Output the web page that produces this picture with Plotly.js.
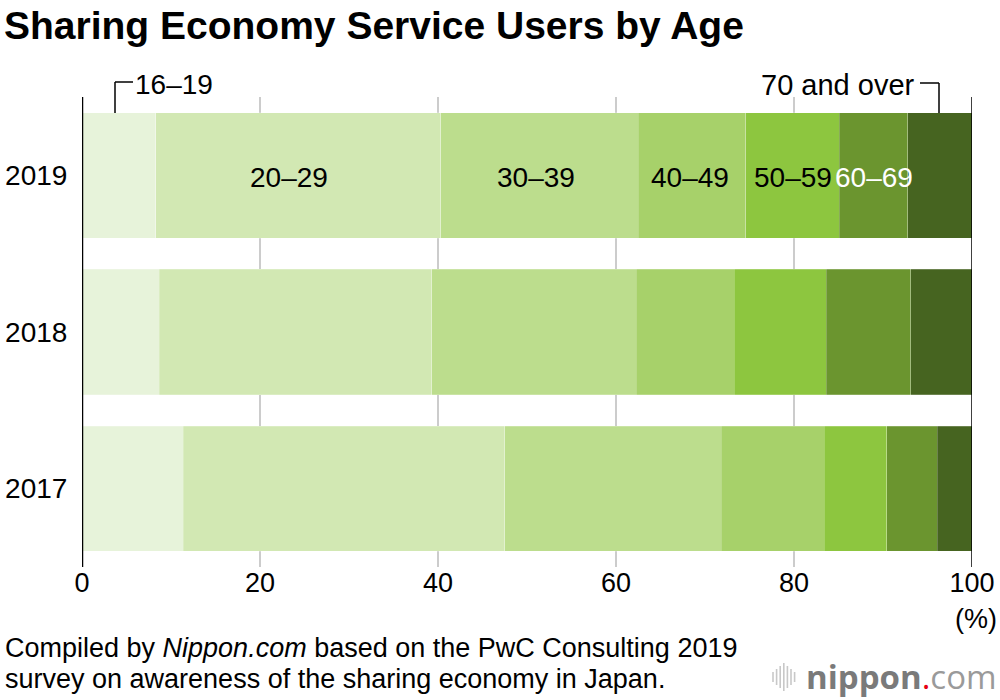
<!DOCTYPE html>
<html>
<head>
<meta charset="utf-8">
<script src="https://cdn.plot.ly/plotly-3.0.1.min.js"></script>
<style>html,body{margin:0;padding:0;background:#fff;}#chart{width:1000px;height:700px;}</style>
</head>
<body>
<div id="chart"></div>
<script>
// ---- data ----
var years = ['2017', '2018', '2019'];
var ageGroups = ['16–19', '20–29', '30–39', '40–49', '50–59', '60–69', '70 and over'];
var s16_19 = [11.4, 8.7, 8.3];
var s20_29 = [36.1, 30.6, 32.0];
var s30_39 = [24.3, 23.0, 22.2];
var s40_49 = [11.6, 11.0, 12.1];
var s50_59 = [7.0, 10.3, 10.5];
var s60_69 = [5.7, 9.5, 7.7];
var s70plus = [3.9, 6.9, 7.2];
var xTicks = [0, 20, 40, 60, 80, 100];

var series = [s16_19, s20_29, s30_39, s40_49, s50_59, s60_69, s70plus];
var colors = ['#e7f3da', '#d2e8b3', '#bcdd8d', '#a7d16a', '#8dc63f', '#6b952f', '#466420'];
var labelShift = [0, -9, -3, -2, 0, 0, 0];
var FONT = 'Liberation Sans, Arial, Helvetica, sans-serif';

// plot geometry (pixels)
var L = 82, R = 972, T = 97, B = 567;
function px(x) { return (x - L) / (R - L); }
function py(y) { return (B - y) / (B - T); }

var traces = series.map(function (vals, i) {
  return {
    type: 'bar', orientation: 'h', y: years, x: vals, name: ageGroups[i],
    marker: { color: colors[i], line: { color: 'rgba(255,255,255,0.35)', width: 0.6 } },
    hoverinfo: 'skip'
  };
});

// in-bar labels for 2019, groups 20–29 .. 60–69
var annotations = [];
var idx = years.indexOf('2019');
var cum = 0;
series.forEach(function (vals, i) {
  var v = vals[idx];
  if (i >= 1 && i <= 5) {
    annotations.push({
      x: cum + v / 2, y: idx, xref: 'x', yref: 'y', text: ageGroups[i], showarrow: false, xshift: labelShift[i], yshift: -2,
      font: { family: FONT, size: 28, color: i === 5 ? '#ffffff' : '#000000' }, xanchor: 'center', yanchor: 'middle'
    });
  }
  cum += v;
});

// bracket labels
annotations.push({ xref: 'paper', yref: 'paper', x: px(133), y: py(85), text: '16–19', showarrow: false,
  xanchor: 'left', yanchor: 'middle', font: { family: FONT, size: 28, color: '#000' } });
annotations.push({ xref: 'paper', yref: 'paper', x: px(917), y: py(85), text: '70 and over', showarrow: false,
  xanchor: 'right', yanchor: 'middle', font: { family: FONT, size: 29, color: '#000' } });

// unit
annotations.push({ xref: 'paper', yref: 'paper', x: px(999), y: py(619), text: '(%)', showarrow: false,
  xanchor: 'right', yanchor: 'middle', font: { family: FONT, size: 27, color: '#000' } });

// footer
annotations.push({ xref: 'paper', yref: 'paper', x: px(3), y: py(648), showarrow: false, xanchor: 'left', yanchor: 'middle',
  text: 'Compiled by <i>Nippon.com</i> based on the PwC Consulting 2019', font: { family: FONT, size: 27, color: '#000' } });
annotations.push({ xref: 'paper', yref: 'paper', x: px(3), y: py(679), showarrow: false, xanchor: 'left', yanchor: 'middle',
  text: 'survey on awareness of the sharing economy in Japan.', font: { family: FONT, size: 27, color: '#000' } });

// logo
annotations.push({ xref: 'paper', yref: 'paper', x: px(999), y: py(676), showarrow: false, xanchor: 'right', yanchor: 'middle',
  text: '<span style="font-weight:bold;color:#7a7a7a">nippon</span><span style="color:#e60012">.</span><span style="color:#9a9a9a">com</span>',
  font: { family: 'Open Sans, sans-serif', size: 33, color: '#888' } });

var shapes = [];
// axis lines at 0 and 100
shapes.push({ type: 'line', xref: 'x', yref: 'paper', x0: 0, x1: 0, y0: 0, y1: 1, line: { color: '#000', width: 2.5 }, layer: 'above' });
shapes.push({ type: 'line', xref: 'x', yref: 'paper', x0: 100, x1: 100, y0: 0, y1: 1, line: { color: '#000', width: 1.5 }, layer: 'above' });
// brackets
shapes.push({ type: 'line', xref: 'paper', yref: 'paper', x0: px(115), x1: px(115), y0: py(113), y1: py(82), line: { color: '#000', width: 1.5 } });
shapes.push({ type: 'line', xref: 'paper', yref: 'paper', x0: px(115), x1: px(133), y0: py(82), y1: py(82), line: { color: '#000', width: 1.5 } });
shapes.push({ type: 'line', xref: 'paper', yref: 'paper', x0: px(939), x1: px(939), y0: py(113), y1: py(83), line: { color: '#000', width: 1.5 } });
shapes.push({ type: 'line', xref: 'paper', yref: 'paper', x0: px(920), x1: px(939), y0: py(83), y1: py(83), line: { color: '#000', width: 1.5 } });
// logo icon bars
var barH = [10, 16, 22, 28, 22, 16, 10];
barH.forEach(function (h, i) {
  var x = 773 + i * 3.6;
  shapes.push({ type: 'line', xref: 'paper', yref: 'paper', x0: px(x), x1: px(x), y0: py(677 - h / 2), y1: py(677 + h / 2),
    line: { color: '#c8c8c8', width: 1.6 } });
});

var layout = {
  width: 1000, height: 700,
  margin: { l: L, r: 1000 - R, t: T, b: 700 - B, pad: 0 },
  paper_bgcolor: '#fff', plot_bgcolor: '#fff',
  barmode: 'stack', bargap: 0.2, showlegend: false,
  title: { text: '<b>Sharing Economy Service Users by Age</b>', x: 0.004, xref: 'container', xanchor: 'left',
    y: 1 - 25 / 700, yref: 'container', yanchor: 'middle', font: { family: FONT, size: 39, color: '#000' } },
  xaxis: {
    range: [0, 100], tickvals: xTicks, ticktext: xTicks.map(String), showgrid: true, gridcolor: '#cccccc', gridwidth: 1.5,
    zeroline: false, showline: false, ticks: '', ticklabelstandoff: -3,
    tickfont: { family: FONT, size: 27, color: '#000' }, fixedrange: true
  },
  yaxis: {
    type: 'category', categoryorder: 'array', categoryarray: years, range: [-0.5, 2.5],
    showgrid: false, zeroline: false, showline: false, ticks: 'outside', ticklen: 8, tickcolor: 'rgba(0,0,0,0)',
    tickfont: { family: FONT, size: 28, color: '#000' }, fixedrange: true
  },
  annotations: annotations,
  shapes: shapes
};

Plotly.newPlot('chart', traces, layout, { displayModeBar: false, staticPlot: true });
</script>
</body>
</html>
